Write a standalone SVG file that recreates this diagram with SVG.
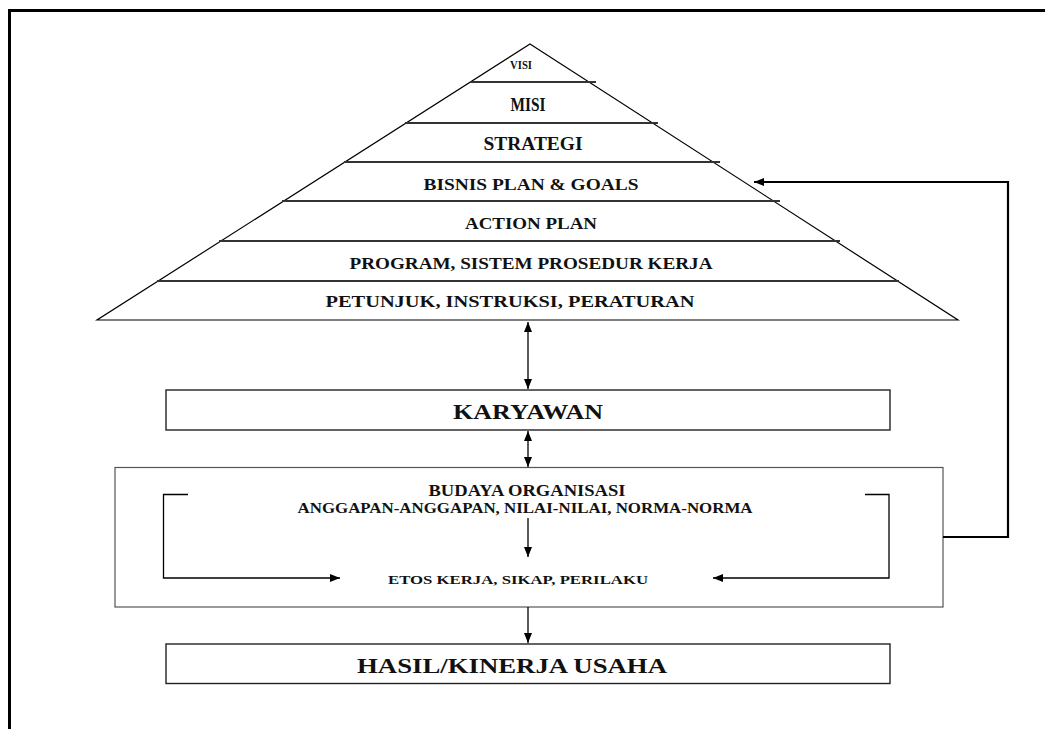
<svg xmlns="http://www.w3.org/2000/svg" width="1045" height="729" viewBox="0 0 1045 729">
<style>
text{font-family:"Liberation Serif","Times New Roman",serif;font-weight:bold;fill:#111;text-anchor:middle}
.tri{fill:#fff;stroke:#000;stroke-width:1.2}
.band{stroke:#333;stroke-width:2.2}
.box{fill:#fff;stroke:#222;stroke-width:1.4}
.gbox{fill:#fff;stroke:#555;stroke-width:1.2}
.ln{fill:none;stroke:#000;stroke-width:1.3}
.fb{fill:none;stroke:#000;stroke-width:2.2}
</style>
<defs>
<marker id="ah" viewBox="0 0 10 8" refX="10" refY="4" markerWidth="10" markerHeight="8" markerUnits="userSpaceOnUse" orient="auto-start-reverse"><path d="M0,0 L10,4 L0,8 z" fill="#000"/></marker>
</defs>
<g id="frame">
<line x1="8" y1="10.5" x2="1045" y2="10.5" stroke="#000" stroke-width="3"/>
<line x1="9.5" y1="9" x2="9.5" y2="729" stroke="#000" stroke-width="3"/>
</g>
<g id="pyramid">
<polygon class="tri" points="530,44 958,320 97,320"/>
<line class="band" x1="470" y1="82" x2="596" y2="82"/>
<line class="band" x1="405" y1="123" x2="658" y2="123"/>
<line class="band" x1="344" y1="162" x2="720" y2="162"/>
<line class="band" x1="282" y1="201" x2="780" y2="201"/>
<line class="band" x1="219" y1="241" x2="840" y2="241"/>
<line class="band" x1="157" y1="281" x2="899" y2="281"/>
</g>
<g id="visi"><text x="521" y="69" font-size="12" textLength="22" lengthAdjust="spacingAndGlyphs">VISI</text></g>
<g id="misi"><text x="528" y="111" font-size="19" textLength="35" lengthAdjust="spacingAndGlyphs">MISI</text></g>
<g id="strategi"><text x="533" y="150" font-size="18" textLength="99" lengthAdjust="spacingAndGlyphs">STRATEGI</text></g>
<g id="bisnis"><text x="531" y="190" font-size="17" textLength="215" lengthAdjust="spacingAndGlyphs">BISNIS PLAN &amp; GOALS</text></g>
<g id="action"><text x="531" y="229" font-size="17" textLength="132" lengthAdjust="spacingAndGlyphs">ACTION PLAN</text></g>
<g id="program"><text x="531" y="269" font-size="17" textLength="363" lengthAdjust="spacingAndGlyphs">PROGRAM, SISTEM PROSEDUR KERJA</text></g>
<g id="petunjuk"><text x="510" y="307" font-size="17" textLength="369" lengthAdjust="spacingAndGlyphs">PETUNJUK, INSTRUKSI, PERATURAN</text></g>
<g id="karyawan">
<rect class="box" x="166" y="390" width="724" height="40"/>
<text x="528" y="419" font-size="21" textLength="150" lengthAdjust="spacingAndGlyphs">KARYAWAN</text>
</g>
<g id="budaya">
<rect class="gbox" x="115" y="467.5" width="828" height="139.5"/>
<text x="527" y="496" font-size="16" textLength="197" lengthAdjust="spacingAndGlyphs">BUDAYA ORGANISASI</text>
<text x="525" y="513" font-size="14" textLength="455" lengthAdjust="spacingAndGlyphs">ANGGAPAN-ANGGAPAN, NILAI-NILAI, NORMA-NORMA</text>
<text x="518" y="584" font-size="13" textLength="260" lengthAdjust="spacingAndGlyphs">ETOS KERJA, SIKAP, PERILAKU</text>
</g>
<g id="hasil">
<rect class="box" x="166" y="644" width="724" height="39.5"/>
<text x="512" y="673" font-size="22" textLength="310" lengthAdjust="spacingAndGlyphs">HASIL/KINERJA USAHA</text>
</g>
<g id="connectors">
<line class="ln" x1="528" y1="322" x2="528" y2="389" marker-start="url(#ah)" marker-end="url(#ah)"/>
<line class="ln" x1="528" y1="431" x2="528" y2="467" marker-start="url(#ah)" marker-end="url(#ah)"/>
<line class="ln" x1="528" y1="518" x2="528" y2="557" marker-end="url(#ah)"/>
<polyline class="ln" points="188,494.5 163.5,494.5 163.5,578 340,578" marker-end="url(#ah)"/>
<polyline class="ln" points="865,494.5 889,494.5 889,578 713,578" marker-end="url(#ah)"/>
<line class="ln" x1="528" y1="607" x2="528" y2="643" marker-end="url(#ah)"/>
<polyline class="fb" points="943,537 1008,537 1008,182 754,182" marker-end="url(#ah)"/>
</g>
</svg>
